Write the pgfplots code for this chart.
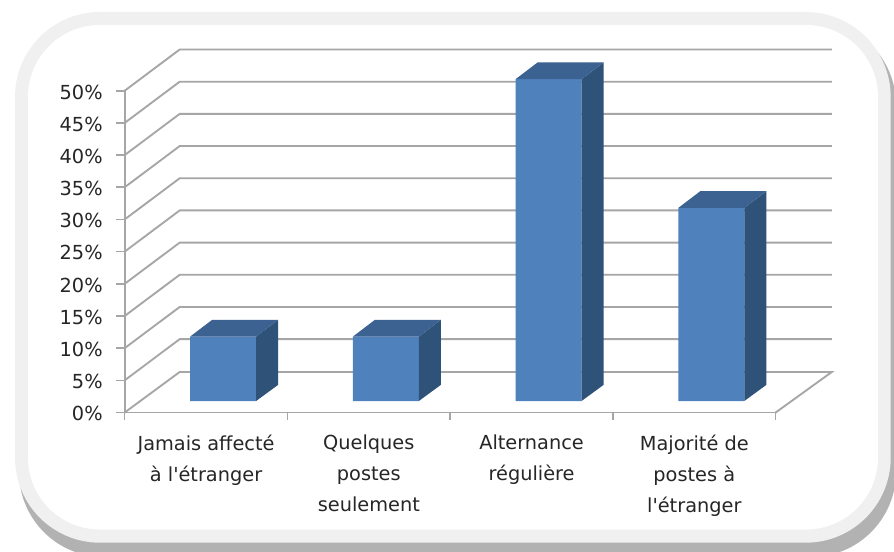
\documentclass[border=0pt]{standalone}
\usepackage{pgfplots}
\pgfplotsset{compat=1.18}
\usepackage{fontspec}
\setmainfont{DejaVu Sans}[Ligatures=TeXOff]
\definecolor{barfront}{HTML}{4F81BD}
\definecolor{bartop}{HTML}{3B6291}
\definecolor{barside}{HTML}{2F5279}
\definecolor{gridgrey}{HTML}{A6A6A6}
\definecolor{panelband}{HTML}{F0F0F0}
\definecolor{panelshadow}{HTML}{B2B2B2}
\definecolor{labeltext}{HTML}{262626}
\begin{document}
\begin{tikzpicture}[x=0.75pt,y=0.75pt]
  \useasboundingbox (0,0) rectangle (894,551);
  \clip (0,0) rectangle (894,551);
  % Rounded panel with its drop shadow
  \fill[white] (0,0) rectangle (894,551);
  \fill[panelshadow,rounded corners=63.75pt] (19,-6) rectangle (896,531);
  \fill[panelband,rounded corners=63.75pt] (15,8.3) rectangle (890.7,539);
  \fill[white,rounded corners=54pt] (28,21.5) rectangle (878,526);

  % Walls, floor and value axis of the box
  \begin{axis}[
    at={(93.525pt,103.875pt)}, anchor=south west,
    scale only axis, width=488.25pt, height=241.35pt,
    xmin=0, xmax=4, ymin=0, ymax=50,
    clip=false,
    axis x line*=bottom, axis y line*=left,
    axis line style={draw=gridgrey,line width=1.4pt,-},
    tick style={draw=gridgrey,line width=1.2pt},
    tick align=outside,
    major tick length=6.5pt,
    xtick={0.5,1.5,2.5,3.5},
    major x tick style={draw=none},
    minor xtick={0,1,2,3,4},
    minor tick length=5.5pt,
    xticklabels={{Jamais affecté\\à l'étranger},{Quelques\\postes\\seulement},{Alternance\\régulière},{Majorité de\\postes à\\l'étranger}},
    x tick label style={align=center,font=\fontsize{14.5}{23}\selectfont,text=labeltext,anchor=north,yshift=-7pt},
    ytick={0,5,...,50},
    yticklabel={\pgfmathprintnumber{\tick}\%},
    y tick label style={font=\fontsize{14.5}{16}\selectfont,text=labeltext,xshift=-6.5pt,yshift=-1pt},
    /pgf/number format/assume math mode=true,
  ]
    % Each gridline runs from the front edge to the back wall, then across it
    \pgfplotsinvokeforeach{5,10,15,20,25,30,35,40,45,50}{
      \addplot[gridgrey,line width=1.4pt,no marks,forget plot]
        coordinates {(0,#1) (0.338,#1+6.4) (4.345,#1+6.4)};
    }
    % Floor outline
    \addplot[gridgrey,line width=1.4pt,no marks,forget plot]
      coordinates {(0,0) (0.338,6.3) (4.345,6.3) (4,0)};
  \end{axis}

  % Bars, set into the depth of the box
  \begin{axis}[
    at={(106.275pt,112.5pt)}, anchor=south west,
    scale only axis, width=488.25pt, height=241.35pt,
    xmin=0, xmax=4, ymin=0, ymax=50,
    clip=false, hide axis,
  ]
    \addplot[ybar,bar width=49.5pt,bar shift=0pt,fill=barfront,draw=none]
      coordinates {(0.5,10) (1.5,10) (2.5,50) (3.5,30)};
    % Right-hand faces
    \addplot[fill=barside,draw=none] coordinates {(0.7028,0) (0.8378,2.5) (0.8378,12.6) (0.7028,10)} -- cycle;
    \addplot[fill=barside,draw=none] coordinates {(1.7028,0) (1.8378,2.5) (1.8378,12.6) (1.7028,10)} -- cycle;
    \addplot[fill=barside,draw=none] coordinates {(2.7028,0) (2.8378,2.5) (2.8378,52.6) (2.7028,50)} -- cycle;
    \addplot[fill=barside,draw=none] coordinates {(3.7028,0) (3.8378,2.5) (3.8378,32.6) (3.7028,30)} -- cycle;
    % Top faces
    \addplot[fill=bartop,draw=none] coordinates {(0.2972,10) (0.4322,12.6) (0.8378,12.6) (0.7028,10)} -- cycle;
    \addplot[fill=bartop,draw=none] coordinates {(1.2972,10) (1.4322,12.6) (1.8378,12.6) (1.7028,10)} -- cycle;
    \addplot[fill=bartop,draw=none] coordinates {(2.2972,50) (2.4322,52.6) (2.8378,52.6) (2.7028,50)} -- cycle;
    \addplot[fill=bartop,draw=none] coordinates {(3.2972,30) (3.4322,32.6) (3.8378,32.6) (3.7028,30)} -- cycle;
  \end{axis}
\end{tikzpicture}
\end{document}
